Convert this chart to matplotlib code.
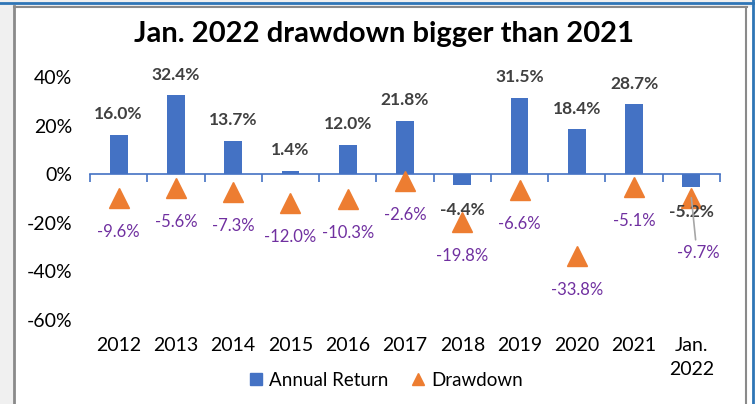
import numpy as np
import matplotlib.pyplot as plt
from matplotlib.patches import Rectangle
from matplotlib.lines import Line2D
import matplotlib.transforms as mtransforms

plt.rcParams['font.family'] = ['Lato', 'DejaVu Sans']

# data
categories = ['2012', '2013', '2014', '2015', '2016', '2017', '2018', '2019', '2020', '2021', 'Jan.\n2022']
annual_return = [16.0, 32.4, 13.7, 1.4, 12.0, 21.8, -4.4, 31.5, 18.4, 28.7, -5.2]
drawdown = [-9.6, -5.6, -7.3, -12.0, -10.3, -2.6, -19.8, -6.6, -33.8, -5.1, -9.7]
y_ticks = [40, 20, 0, -20, -40, -60]

blue = '#4472C4'
orange = '#ED7D31'
purple = '#7030A0'
dark = '#404040'

fig = plt.figure(figsize=(7.55, 4.04), dpi=100)
fig.patch.set_facecolor('white')

# window frame around the chart
fig.patches.append(Rectangle((0, 0), 13 / 755, 1, transform=fig.transFigure, color='#f0f0f0', zorder=0))
fig.patches.append(Rectangle((0, 1 - 6 / 404), 1, 6 / 404, transform=fig.transFigure, color='#f0f0f0', zorder=0))
fig.lines.append(Line2D([13.5 / 755, 13.5 / 755], [0, 1 - 6 / 404], transform=fig.transFigure, color='#8a8a8a', lw=2))
fig.lines.append(Line2D([13.5 / 755, 747 / 755], [1 - 7 / 404, 1 - 7 / 404], transform=fig.transFigure, color='#8a8a8a', lw=1.5))
fig.lines.append(Line2D([746 / 755, 746 / 755], [0, 1 - 7 / 404], transform=fig.transFigure, color='#8a8a8a', lw=1.5))
fig.lines.append(Line2D([0, 1], [1 - 2.5 / 404, 1 - 2.5 / 404], transform=fig.transFigure, color='#2e75b6', lw=2))
fig.lines.append(Line2D([753 / 755, 753 / 755], [0, 1], transform=fig.transFigure, color='#2e75b6', lw=2))

ax = fig.add_axes([90 / 755, 1 - 320 / 404, 630 / 755, 243 / 404])
x = np.arange(len(categories))

bars = ax.bar(x, annual_return, width=0.31, color=blue, zorder=2, label='Annual Return')
ax.plot(x, drawdown, linestyle='none', marker='^', markersize=15, color=orange, zorder=3, label='Drawdown')

ax.set_xlim(-0.5, len(categories) - 0.5)
ax.set_ylim(-60, 40)
ax.set_yticks(y_ticks)
ax.set_yticklabels([f'{v}%' for v in y_ticks], fontsize=14, color='black')
ax.tick_params(axis='y', length=0, pad=13)

# category axis sits at zero
for s in ['top', 'right', 'left']:
    ax.spines[s].set_visible(False)
ax.spines['bottom'].set_position(('data', 0))
ax.spines['bottom'].set_color(blue)
ax.spines['bottom'].set_linewidth(1.2)
ax.set_xticks(np.arange(len(categories) + 1) - 0.5)
ax.set_xticklabels([])
ax.tick_params(axis='x', direction='out', length=6, color=blue, width=1.2)

trans = mtransforms.blended_transform_factory(ax.transData, ax.transAxes)
for i, c in enumerate(categories):
    ax.text(i, -0.07, c, transform=trans, ha='center', va='top', fontsize=14, linespacing=1.5)

# value labels
for i, v in enumerate(annual_return):
    off = 15 if v >= 0 else -18
    ax.annotate(f'{v:.1f}%', (i, v), xytext=(0, off), textcoords='offset points',
                ha='center', va='center', fontsize=12.5, fontweight='bold', color=dark, zorder=5)

for i, v in enumerate(drawdown):
    if i == len(drawdown) - 1:
        ax.annotate(f'{v:.1f}%', (i, v), xytext=(5, -40), textcoords='offset points',
                    ha='center', va='center', fontsize=12, color=purple, zorder=5,
                    arrowprops=dict(arrowstyle='-', color='#a6a6a6', lw=1.2, shrinkA=2, shrinkB=0, relpos=(0.45, 1)))
    else:
        ax.annotate(f'{v:.1f}%', (i, v), xytext=(0, -24.5), textcoords='offset points',
                    ha='center', va='center', fontsize=12, color=purple, zorder=5)

fig.text(384 / 755, 1 - 34 / 404, 'Jan. 2022 drawdown bigger than 2021', ha='center', va='center',
         fontsize=21, fontweight='bold')

handles = [Line2D([], [], linestyle='none', marker='s', markersize=9, color=blue),
           Line2D([], [], linestyle='none', marker='^', markersize=9, color=orange)]
fig.legend(handles, ['Annual Return', 'Drawdown'], loc='center', bbox_to_anchor=(384 / 755, 1 - 380 / 404),
           ncol=2, frameon=False, fontsize=13.5, handletextpad=0.1, columnspacing=1.0, handlelength=1.2)

fig.savefig('out.png', dpi=100)
